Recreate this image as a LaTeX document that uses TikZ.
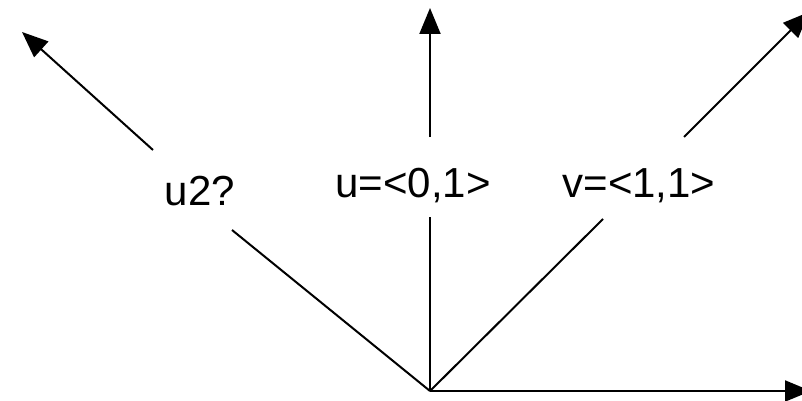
\documentclass[tikz,border=0pt]{standalone}
\usepackage{fontspec}
\setmainfont{Liberation Sans}
\usetikzlibrary{arrows.meta}
\begin{document}
\begin{tikzpicture}[x=1pt,y=-1pt,
  vec/.style={line width=2pt,-{Triangle[length=26pt,width=21pt]}},
  seg/.style={line width=2pt},
  lbl/.style={inner sep=0pt,font=\fontsize{42}{50}\selectfont}]
\clip (0,0) rectangle (802,401);
\fill[white] (0,0) rectangle (802,401);
\coordinate (o) at (430,391);
\coordinate (tr) at (811,391);
\coordinate (tu) at (430,8);
\coordinate (tv) at (809,12);
\coordinate (tw) at (22,32);
% gap ends
\coordinate (ua) at (430,217);
\coordinate (ub) at (430,137);
\coordinate (va) at (603,219);
\coordinate (vb) at (684,137);
\coordinate (wa) at (232,230);
\coordinate (wb) at (153,150);
\draw[vec] (o) -- (tr);
\draw[seg] (o) -- (ua);
\draw[vec] (ub) -- (tu);
\draw[seg] (o) -- (va);
\draw[vec] (vb) -- (tv);
\draw[seg] (o) -- (wa);
\draw[vec] (wb) -- (tw);
\node[lbl] (lw) at (200,191) {u2?};
\node[lbl] (lu) at (413,186) {u=<0,1>};
\node[lbl] (lv) at (639,186) {v=<1,1>};
\end{tikzpicture}
\end{document}
